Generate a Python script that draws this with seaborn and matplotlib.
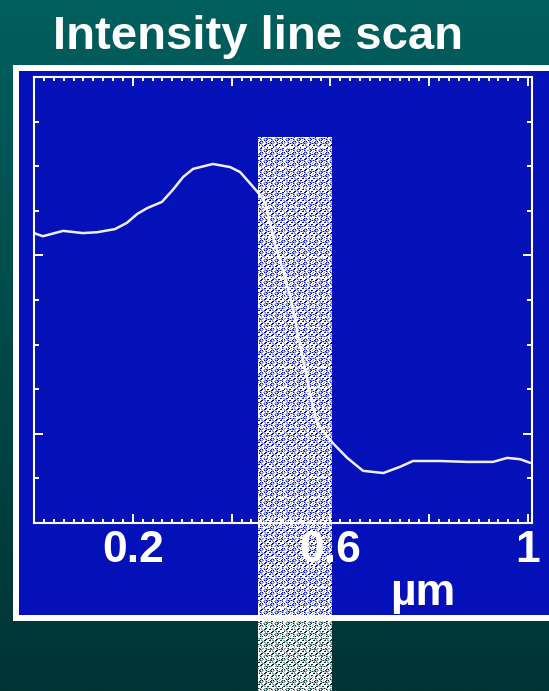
import numpy as np
import pandas as pd
import matplotlib
matplotlib.use("Agg")
import matplotlib.pyplot as plt
from matplotlib.patches import Rectangle
from matplotlib.ticker import FixedLocator, MultipleLocator
import seaborn as sns

# ---- data ----
position_um = [0.000, 0.018, 0.059, 0.099, 0.128, 0.164, 0.188, 0.209, 0.229, 0.259,
               0.281, 0.302, 0.322, 0.362, 0.397, 0.417, 0.437, 0.458, 0.468, 0.484,
               0.504, 0.522, 0.535, 0.549, 0.563, 0.573, 0.583, 0.605, 0.634, 0.666,
               0.707, 0.741, 0.767, 0.822, 0.877, 0.929, 0.958, 0.984, 1.004]
intensity = [0.650, 0.643, 0.655, 0.650, 0.652, 0.659, 0.673, 0.693, 0.706, 0.720,
             0.747, 0.776, 0.794, 0.805, 0.798, 0.787, 0.762, 0.735, 0.718, 0.641,
             0.567, 0.493, 0.417, 0.343, 0.269, 0.224, 0.209, 0.179, 0.146, 0.117,
             0.112, 0.126, 0.139, 0.139, 0.137, 0.137, 0.146, 0.143, 0.135]
x_major = [0.2, 0.4, 0.6, 0.8, 1.0]
x_labels = ["0.2", "", "0.6", "", "1"]
y_major = [0.2, 0.6]
title = "Intensity line scan"
x_unit = "µm"

W, H = 549, 691
BLUE = "#0411B8"
sns.set_theme(style="white")
plt.rcParams["font.family"] = ["Liberation Sans", "DejaVu Sans"]

fig = plt.figure(figsize=(W / 100, H / 100), dpi=100)

# background gradient
bg = fig.add_axes([0, 0, 1, 1], zorder=-3)
grad = np.linspace(0, 1, 256)[:, None]
top = np.array([0x00, 0x5F, 0x5E]) / 255
bot = np.array([0x00, 0x33, 0x33]) / 255
img = top[None, None, :] * (1 - grad[:, :, None]) + bot[None, None, :] * grad[:, :, None]
bg.imshow(img, aspect="auto", extent=[0, 1, 0, 1])
bg.set_axis_off()

def fx(px):
    return px / W

def fy(py):
    return 1 - py / H

# white frame and blue panel
fig.add_artist(Rectangle((fx(13), fy(621)), 1.0, fy(65) - fy(621),
                         transform=fig.transFigure, facecolor="white",
                         edgecolor="none", zorder=-2))
fig.add_artist(Rectangle((fx(19), fy(615)), 1.0, fy(71) - fy(615),
                         transform=fig.transFigure, facecolor=BLUE,
                         edgecolor="none", zorder=-1))

# main axes
ax = fig.add_axes([fx(34), fy(523), fx(532) - fx(34), fy(77) - fy(523)], zorder=1)
ax.set_facecolor(BLUE)
df = pd.DataFrame({"x": position_um, "y": intensity})
sns.lineplot(data=df, x="x", y="y", ax=ax, color="#EEEEFF", linewidth=1.8,
             sort=False, solid_joinstyle="round", solid_capstyle="round")
ax.set_xlim(0, 1.008)
ax.set_ylim(0, 1.0)
for s in ax.spines.values():
    s.set_color("white")
    s.set_linewidth(1.5)
    s.set_visible(True)

ax.xaxis.set_major_locator(FixedLocator(x_major))
ax.set_xticklabels(x_labels)
ax.xaxis.set_minor_locator(MultipleLocator(0.02))
ax.yaxis.set_major_locator(FixedLocator(y_major))
ax.yaxis.set_minor_locator(MultipleLocator(0.1))
ax.set_yticklabels([])
ax.tick_params(axis="both", which="both", direction="in", color="white",
               top=True, right=True, bottom=True, left=True, width=1.4)
ax.tick_params(axis="x", which="major", length=6.5, pad=5,
               labelsize=32, labelcolor="white")
ax.tick_params(axis="x", which="minor", length=2.8)
ax.tick_params(axis="y", which="major", length=6.5)
ax.tick_params(axis="y", which="minor", length=3.5)
for lab in ax.get_xticklabels():
    lab.set_fontweight("bold")
ax.set_xlabel(x_unit, fontsize=32, fontweight="bold", color="white")
ax.xaxis.set_label_coords(0.781, -0.113)
ax.set_ylabel("")

# title
fig.text(fx(258), fy(49), title, ha="center", va="baseline",
         fontsize=34, fontweight="bold", color="white")

# speckled overlay band
bx0, bx1, by0 = 258, 332, 137
bh, bw = H - by0, bx1 - bx0
ii, jj = np.mgrid[0:bh, 0:bw]
v = (ii * ii * 7 + jj * jj * 13 + ii * jj * 5 + ii * 3 + jj) % 11
alpha = np.where(v < 5, 1.0, np.where(v < 9, 0.55, 0.0))
alpha[(ii % 10 == 0) & (jj % 3 != 0)] = 1.0
alpha[(jj % 25 == 0) & (ii % 2 == 0)] = 1.0
tex = np.ones((bh, bw, 4))
tex[..., 3] = alpha
band = fig.add_axes([fx(bx0), 0, fx(bx1) - fx(bx0), fy(by0)], zorder=5)
band.imshow(tex, aspect="auto", interpolation="nearest")
band.set_axis_off()

fig.savefig("out.png", dpi=100)
